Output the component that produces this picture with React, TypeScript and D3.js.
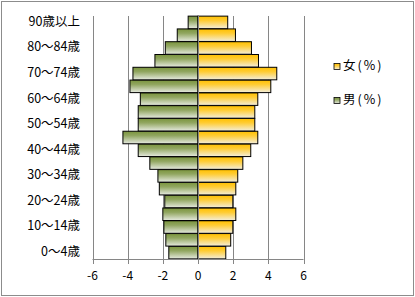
import React from "react";
import * as d3 from "d3";

const ageGroups = [
  "0～4歳", "5～9歳", "10～14歳", "15～19歳", "20～24歳", "25～29歳", "30～34歳",
  "35～39歳", "40～44歳", "45～49歳", "50～54歳", "55～59歳", "60～64歳", "65～69歳",
  "70～74歳", "75～79歳", "80～84歳", "85～89歳", "90歳以上",
];
const maleValues = [
  -1.66, -1.83, -1.94, -2.0, -1.89, -2.2, -2.28, -2.74, -3.4, -4.27,
  -3.4, -3.4, -3.28, -3.87, -3.7, -2.45, -1.86, -1.18, -0.56,
];
const femaleValues = [
  1.58, 1.86, 1.98, 2.15, 1.98, 2.15, 2.26, 2.55, 3.0, 3.4,
  3.23, 3.23, 3.4, 4.14, 4.48, 3.44, 3.04, 2.13, 1.69,
];
const xTicks = [-6, -4, -2, 0, 2, 4, 6];
const legendItems = ["女(%)", "男(%)"];

const W = 415;
const H = 297;
const FONT = "'Noto Sans CJK JP', 'Noto Sans', sans-serif";

export default function App() {
  const left = 92.5;
  const right = 303.5;
  const top = 16;
  const bottom = 259;
  const x = d3.scaleLinear().domain([-6, 6]).range([left, right]);
  const y = d3
    .scaleBand<string>()
    .domain([...ageGroups].reverse())
    .range([top, bottom])
    .paddingInner(0.02)
    .paddingOuter(0.01);
  const bw = y.bandwidth();

  return (
    <svg
      width={W}
      height={H}
      style={{ position: "absolute", left: 0, top: 0, background: "#fff" }}
      fontFamily={FONT}
    >
      <defs>
        <linearGradient id="gF" x1="0" y1="0" x2="0" y2="1">
          <stop offset="0" stopColor="#FFC000" />
          <stop offset="0.35" stopColor="#FFCC33" />
          <stop offset="1" stopColor="#F3EEDC" />
        </linearGradient>
        <linearGradient id="gM" x1="0" y1="0" x2="0" y2="1">
          <stop offset="0" stopColor="#7A943C" />
          <stop offset="0.35" stopColor="#91A660" />
          <stop offset="1" stopColor="#E6EAE0" />
        </linearGradient>
      </defs>
      <rect x={1.5} y={1.5} width={W - 3} height={H - 3} fill="#fff" stroke="#8c8c8c" strokeWidth={1} />

      {xTicks.map((t) => (
        <line
          key={"g" + t}
          x1={Math.round(x(t)) + 0.5}
          x2={Math.round(x(t)) + 0.5}
          y1={top}
          y2={bottom}
          stroke="#868686"
          strokeWidth={1}
        />
      ))}

      {ageGroups.map((g, i) => {
        const yy = y(g)!;
        const m = maleValues[i];
        const f = femaleValues[i];
        return (
          <g key={g}>
            <rect
              x={x(m)}
              y={yy}
              width={x(0) - x(m)}
              height={bw}
              fill="url(#gM)"
              stroke="#000"
              strokeWidth={1}
            />
            <rect
              x={x(0)}
              y={yy}
              width={x(f) - x(0)}
              height={bw}
              fill="url(#gF)"
              stroke="#000"
              strokeWidth={1}
            />
          </g>
        );
      })}

      <line
        x1={Math.round(x(0)) + 0.5}
        x2={Math.round(x(0)) + 0.5}
        y1={top}
        y2={bottom}
        stroke="#868686"
        strokeWidth={1}
      />

      <line x1={x(-6)} x2={x(6)} y1={bottom + 0.5} y2={bottom + 0.5} stroke="#868686" />
      {xTicks.map((t) => (
        <g key={"t" + t}>
          <line
            x1={Math.round(x(t)) + 0.5}
            x2={Math.round(x(t)) + 0.5}
            y1={bottom}
            y2={bottom + 5}
            stroke="#868686"
          />
          <text
            x={x(t)}
            y={277}
            textAnchor="middle"
            dominantBaseline="middle"
            fontSize={12}
            fill="#000"
          >
            {t}
          </text>
        </g>
      ))}

      {ageGroups.map((g, i) =>
        i % 2 === 0 ? (
          <text
            key={"l" + g}
            x={80}
            y={y(g)! + bw / 2}
            textAnchor="end"
            dominantBaseline="middle"
            fontSize={12.5}
            fill="#000"
          >
            {g}
          </text>
        ) : null
      )}

      {legendItems.map((s, i) => {
        const ly = 67 + i * 34;
        return (
          <g key={s}>
            <rect
              x={334}
              y={ly - 3.5}
              width={6}
              height={6}
              fill={i === 0 ? "url(#gF)" : "url(#gM)"}
              stroke="#000"
              strokeWidth={0.8}
            />
            <text x={343} y={ly} dominantBaseline="middle" fontSize={12.5} letterSpacing={2} fill="#000">
              {s}
            </text>
          </g>
        );
      })}
    </svg>
  );
}
